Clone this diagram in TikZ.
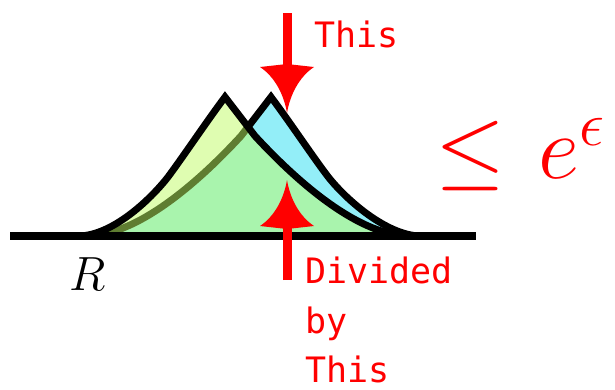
\RequirePackage{fix-cm}
\documentclass[tikz,border=0pt]{standalone}
\usepackage{fontspec}
\newfontfamily\monofont{DejaVu Sans Mono}
\definecolor{cyanfill}{RGB}{147,238,248}
\definecolor{limefill}{RGB}{191,251,99}
\begin{document}
\begin{tikzpicture}[x=1pt,y=-1pt,
  curve/.style={draw=black,line width=7pt,line join=miter},
  baseline line/.style={draw=black,line width=8pt},
  shaft/.style={draw=red,line width=9pt},
  lbl/.style={text=red,font=\monofont\fontsize{35}{42}\selectfont,inner sep=0pt,anchor=base west},
  redhead/.pic={\fill[red] (0,0) .. controls (-3,-18) and (-12,-36) .. (-27,-46) -- (0,-49) -- (27,-46) .. controls (12,-36) and (3,-18) .. (0,0) -- cycle;}]
\useasboundingbox (0,0) rectangle (615,389);

% right (cyan) peak
\fill[cyanfill] (86,236) .. controls (141,236) and (206,174) .. (241,136)
  .. controls (251,123) and (261,110) .. (271,97)
  .. controls (289,121) and (311,154) .. (326,174)
  .. controls (343,197) and (386,236) .. (421,236) -- cycle;
\draw[curve] (86,236) .. controls (141,236) and (206,174) .. (241,136)
  .. controls (251,123) and (261,110) .. (271,97)
  .. controls (289,121) and (311,154) .. (326,174)
  .. controls (343,197) and (386,236) .. (421,236);

% left (lime) peak, translucent
\fill[limefill,fill opacity=0.5] (78,236) .. controls (112,236) and (150,200) .. (168,177)
  .. controls (185,154) and (207,121) .. (225,97)
  .. controls (235,110) and (245,123) .. (255,136)
  .. controls (290,174) and (355,236) .. (410,236) -- cycle;
\draw[curve] (78,236) .. controls (112,236) and (150,200) .. (168,177)
  .. controls (185,154) and (207,121) .. (225,97)
  .. controls (235,110) and (245,123) .. (255,136)
  .. controls (290,174) and (355,236) .. (410,236);

% baseline
\coordinate (bl) at (10,236);
\coordinate (br) at (476,236);
\draw[baseline line] (bl) -- (br);

% arrows
\coordinate (topstart) at (287,13);
\coordinate (toptip) at (287,113);
\coordinate (botstart) at (287,280);
\coordinate (bottip) at (287,180);
\draw[shaft,shorten >=40pt] (topstart) -- (toptip);
\pic at (toptip) {redhead};
\draw[shaft,shorten >=40pt] (botstart) -- (bottip);
\pic[rotate=180] at (bottip) {redhead};

% texts
\node[lbl] (this1) at (314,47) {This};
\node[lbl] (div) at (305,283) {Divided};
\node[lbl] (by) at (305,333) {by};
\node[lbl] (this2) at (305,382) {This};
\node[text=red,inner sep=0pt,anchor=base west,font=\fontsize{90}{100}\selectfont] (ineq) at (435.5,178) {$\leq\mkern1.5mu e^{\epsilon}$};
\node[inner sep=0pt,anchor=base,font=\fontsize{48}{56}\selectfont] (R) at (88,290) {$R$};
\end{tikzpicture}
\end{document}
